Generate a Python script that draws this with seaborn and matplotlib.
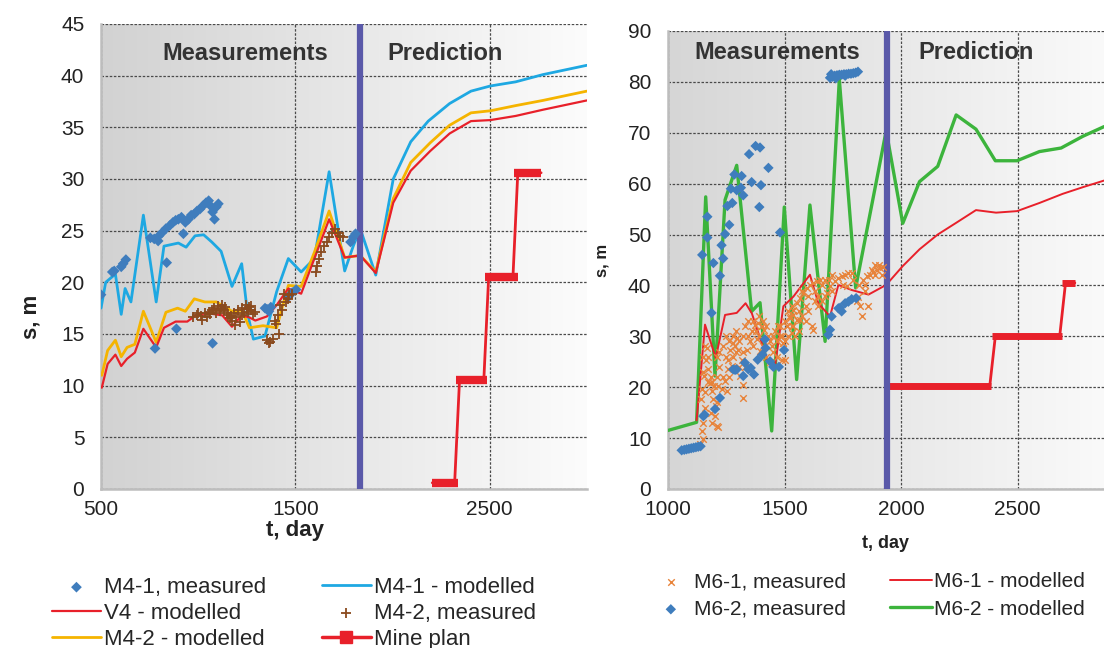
import numpy as np
import matplotlib
matplotlib.use("Agg")
import matplotlib.pyplot as plt
from matplotlib.colors import LinearSegmentedColormap
from matplotlib.lines import Line2D
import seaborn as sns

# ---------------- left panel: M4 / V4 ----------------
m41_meas_t = [500, 558, 568, 604, 614, 628, 754, 774, 778, 794, 798, 814, 834, 838, 854, 870,
              884, 888, 898, 914, 924, 934, 950, 964, 980, 994, 1010, 1024, 1040, 1054, 1064,
              1074, 1074, 1084, 1094, 1104, 1344, 1354, 1364, 1374, 1484, 1464, 1504,
              1784, 1798, 1810]
m41_meas_s = [18.8, 21.0, 21.1, 21.5, 21.8, 22.2, 24.3, 24.2, 13.6, 24.0, 24.5, 24.8, 25.2, 21.9,
              25.5, 25.8, 26.0, 15.5, 26.1, 26.3, 24.7, 25.8, 26.1, 26.5, 26.6, 26.9, 27.1, 27.4,
              27.7, 27.9, 27.4, 26.8, 14.1, 26.1, 27.3, 27.6, 17.5, 17.4, 17.2, 17.6, 19.0, 18.6,
              19.3, 23.9, 24.4, 24.7]

m42_meas_t = [974, 994, 1014, 1034, 1054, 1070, 1084, 1104, 1124, 1134, 1154, 1164, 1174, 1184,
              1204, 1214, 1224, 1244, 1254, 1274, 1290, 1020, 1060, 1090, 1110, 1140, 1194, 1234,
              1264, 1280, 1190, 1354, 1370, 1384, 1414, 1394, 1410, 1430, 1450, 1470, 1484, 1444,
              1604, 1614, 1624, 1634, 1650, 1664, 1674, 1690, 1704, 1718, 1730, 1744,
              1000, 1045, 1118, 1148, 1170, 1228, 1250, 1270, 1362, 1402, 1422, 1460]
m42_meas_s = [16.6, 16.8, 16.7, 17.0, 17.1, 17.3, 17.5, 17.7, 17.8, 17.3, 16.8, 16.5, 16.3, 17.0,
              17.3, 16.2, 17.5, 17.8, 17.1, 17.3, 17.1, 16.4, 16.9, 17.0, 17.2, 17.6, 16.6, 17.0,
              17.6, 16.9, 15.9, 14.4, 14.2, 14.5, 15.0, 16.3, 16.8, 17.3, 18.1, 18.8, 18.9, 18.9,
              21.0, 21.6, 22.3, 22.9, 23.5, 23.9, 24.4, 24.8, 25.2, 24.8, 24.5, 24.4,
              17.0, 16.6, 17.4, 17.0, 16.7, 16.8, 17.4, 17.7, 14.1, 16.0, 17.8, 18.4]

m41_mod_t = [500, 524, 574, 604, 624, 654, 718, 784, 824, 898, 938, 984, 1028, 1070, 1118, 1174,
             1224, 1254, 1284, 1344, 1404, 1464, 1530, 1598, 1674, 1754, 1798, 1834, 1914, 2004,
             2094, 2184, 2294, 2404, 2504, 2634, 2774, 3000]
m41_mod_s = [17.5, 20.0, 20.8, 16.9, 19.4, 18.1, 26.5, 18.1, 23.5, 23.8, 23.4, 24.5, 24.6, 23.9,
             23.0, 19.6, 21.8, 17.0, 14.5, 14.8, 19.1, 22.3, 21.0, 22.3, 30.7, 21.1, 23.5, 25.2,
             20.7, 30.0, 33.6, 35.6, 37.3, 38.5, 39.0, 39.4, 40.1, 41.0]

v4_mod_t = [504, 534, 574, 604, 634, 674, 718, 784, 824, 884, 944, 994, 1054, 1124, 1174, 1224,
            1264, 1294, 1354, 1404, 1464, 1530, 1598, 1674, 1754, 1834, 1914, 2004, 2094, 2194,
            2294, 2404, 2504, 2634, 2774, 3000]
v4_mod_s = [9.8, 12.1, 13.0, 11.9, 12.6, 13.2, 15.5, 13.7, 15.6, 16.2, 16.2, 16.9, 17.0, 16.8,
            15.7, 16.8, 16.6, 16.3, 16.7, 17.8, 19.4, 18.9, 22.3, 26.1, 22.4, 22.6, 20.9, 27.7,
            30.8, 32.7, 34.4, 35.6, 35.7, 36.1, 36.7, 37.6]

m42_mod_t = [504, 534, 574, 604, 634, 674, 718, 784, 834, 894, 934, 980, 1034, 1094, 1174, 1224,
             1264, 1334, 1404, 1464, 1530, 1598, 1674, 1754, 1834, 1914, 2004, 2094, 2194, 2294,
             2404, 2504, 2634, 2774, 3000]
m42_mod_s = [11.0, 13.4, 14.4, 12.8, 13.7, 14.0, 17.2, 14.2, 17.1, 17.5, 17.2, 18.4, 18.1, 18.1,
             17.2, 17.3, 15.6, 15.8, 15.6, 19.7, 19.6, 22.9, 26.9, 22.4, 22.6, 21.0, 28.1, 31.6,
             33.5, 35.2, 36.4, 36.6, 37.1, 37.6, 38.5]

plan4_t = [2205, 2320, 2345, 2470, 2495, 2620, 2645, 2765]
plan4_s = [0.6, 0.6, 10.5, 10.5, 20.5, 20.5, 30.6, 30.6]
plan4_bar_from = [2205, 2325, 2475, 2625]
plan4_bar_to = [2335, 2485, 2645, 2765]
plan4_bar_s = [0.6, 10.5, 20.5, 30.6]
split4 = 1834

# ---------------- right panel: M6 ----------------
m61_meas_t = [1137, 1144, 1152, 1142, 1147, 1156, 1162, 1166, 1173, 1180, 1187, 1195, 1202, 1209,
              1199, 1216, 1230, 1245, 1252, 1259, 1266, 1280, 1295, 1288, 1302, 1259, 1273, 1316,
              1323, 1323, 1309, 1338, 1352, 1359, 1373, 1388, 1402, 1413, 1380, 1395, 1431, 1445,
              1459, 1473, 1488, 1495, 1502, 1509, 1524, 1538, 1552, 1545, 1531, 1152, 1213, 1205,
              1481, 1495, 1488, 1509, 1524, 1538, 1552, 1567, 1581, 1595, 1609, 1624, 1638, 1652,
              1617, 1624, 1567, 1538, 1717, 1731, 1745, 1760, 1774, 1788, 1767, 1817, 1824, 1831,
              1810, 1838, 1853, 1867, 1881, 1896, 1910, 1924, 1695, 1681,
              1150, 1150, 1160, 1160, 1160, 1170, 1170, 1185, 1185, 1190, 1190, 1210, 1210, 1210,
              1220, 1220, 1235, 1235, 1248, 1248, 1262, 1262, 1278, 1278, 1292, 1292, 1305, 1305,
              1320, 1320, 1332, 1332, 1345, 1345, 1365, 1365, 1378, 1392, 1392, 1408, 1408, 1420,
              1420, 1438, 1438, 1452, 1452, 1466, 1466, 1480, 1500, 1500, 1515, 1515, 1530, 1530,
              1560, 1560, 1575, 1575, 1590, 1590, 1602, 1602, 1630, 1630, 1645, 1645, 1660, 1660,
              1675, 1675, 1690, 1705, 1705, 1752, 1795, 1820, 1845, 1845, 1860, 1875, 1890, 1890,
              1905, 1918]
m61_meas_s = [8.8, 11.4, 13.0, 17.6, 19.6, 22.2, 25.4, 27.7, 23.5, 20.9, 19.2, 17.6, 14.3, 12.4,
              20.2, 20.2, 19.6, 21.2, 19.2, 25.4, 27.4, 28.7, 29.7, 28.0, 27.4, 23.5, 24.1, 25.4,
              20.5, 17.9, 22.2, 27.4, 29.0, 31.0, 32.3, 32.6, 32.0, 31.3, 29.4, 27.1, 30.0, 28.0,
              31.0, 32.0, 30.0, 28.7, 25.4, 32.0, 33.6, 34.2, 33.3, 30.0, 30.7, 9.8, 12.1, 16.3,
              30.0, 28.7, 25.4, 32.0, 33.9, 35.2, 36.5, 37.5, 38.5, 39.5, 40.1, 40.4, 40.8, 41.1,
              32.0, 31.3, 33.3, 32.0, 40.8, 41.4, 41.8, 42.1, 42.4, 42.4, 39.8, 37.8, 35.9, 33.9,
              36.9, 41.1, 41.8, 42.1, 42.7, 43.1, 43.4, 43.7, 39.8, 38.5,
              23.0, 26.0, 16.0, 19.0, 28.0, 21.0, 26.0, 15.0, 22.0, 13.0, 21.0, 17.0, 22.0, 26.0,
              24.0, 27.0, 22.0, 28.0, 26.0, 30.0, 29.0, 22.0, 30.0, 26.0, 27.0, 31.0, 29.0, 24.0,
              30.0, 27.0, 24.0, 32.0, 30.0, 33.0, 28.0, 33.0, 31.0, 30.0, 34.0, 28.0, 33.0, 26.0,
              32.0, 29.0, 25.0, 27.0, 30.0, 29.0, 26.0, 32.0, 33.0, 29.0, 30.0, 35.0, 32.0, 36.0,
              35.0, 31.0, 34.0, 39.0, 36.0, 33.0, 38.0, 35.0, 37.0, 39.0, 38.0, 36.0, 40.0, 37.0,
              41.0, 38.0, 41.0, 39.0, 42.0, 40.0, 41.0, 40.0, 40.0, 39.0, 36.0, 43.0, 42.0, 44.0,
              44.0, 42.0]

m62_meas_t = [1059, 1070, 1080, 1090, 1100, 1110, 1120, 1130, 1140, 1152, 1157, 1187, 1202, 1223,
              1280, 1288, 1295, 1323, 1330, 1345, 1355, 1369, 1385, 1405, 1416, 1419, 1438, 1452,
              1476, 1498, 1195, 1223, 1147, 1169, 1169, 1230, 1237, 1245, 1263, 1255, 1276, 1270,
              1285, 1295, 1313, 1316, 1323, 1348, 1359, 1376, 1395, 1399, 1392, 1431, 1481,
              1695, 1705, 1715, 1725, 1735, 1745, 1755, 1765, 1775, 1785, 1795, 1805, 1815, 1700,
              1720, 1760, 1688, 1695, 1702, 1731, 1745, 1760, 1774, 1788, 1807, 1738]
m62_meas_s = [7.6, 7.7, 7.8, 7.9, 8.0, 8.1, 8.2, 8.3, 8.4, 14.3, 14.6, 34.6, 15.7, 17.9,
              23.5, 23.4, 23.5, 22.2, 24.8, 23.5, 23.8, 22.5, 25.4, 26.4, 29.4, 27.7, 25.1, 24.0,
              24.0, 27.3, 44.4, 41.9, 46.0, 53.5, 49.4, 47.9, 45.3, 50.1, 51.9, 55.6, 56.2, 59.0,
              61.8, 58.7, 59.2, 61.5, 57.7, 65.8, 60.3, 67.4, 67.1, 59.7, 55.4, 63.1, 50.4,
              80.8, 81.0, 81.2, 81.3, 81.4, 81.4, 81.5, 81.5, 81.6, 81.6, 81.7, 81.8, 82.0, 81.5,
              80.7, 81.2, 30.3, 31.3, 33.9, 35.5, 34.9, 36.5, 36.8, 37.3, 37.5, 35.6]

m61_mod_t = [1123, 1159, 1205, 1245, 1295, 1333, 1360, 1430, 1459, 1495, 1538, 1609, 1645, 1695,
             1731, 1788, 1860, 1936, 2007, 2079, 2157, 2236, 2321, 2407, 2497, 2593, 2693, 2779,
             2870]
m61_mod_s = [13.5, 32.3, 25.8, 34.2, 34.6, 36.5, 34.5, 24.8, 24.1, 35.9, 37.8, 42.1, 36.5, 33.9,
             40.1, 39.1, 38.2, 40.1, 43.8, 47.1, 50.0, 52.3, 54.8, 54.3, 54.6, 56.2, 58.0, 59.3,
             60.6]

m62_mod_t = [1000, 1123, 1162, 1202, 1245, 1295, 1359, 1395, 1445, 1499, 1552, 1609, 1674, 1735,
             1805, 1936, 2007, 2079, 2157, 2236, 2321, 2404, 2497, 2593, 2686, 2779, 2870]
m62_mod_s = [11.5, 13.1, 57.4, 22.2, 56.8, 63.6, 34.9, 36.6, 11.4, 55.4, 21.5, 55.8, 29.0, 80.5,
             39.5, 70.4, 52.2, 60.4, 63.4, 73.5, 70.7, 64.5, 64.5, 66.3, 67.0, 69.3, 71.2]

plan6_t = [1940, 2380, 2404, 2680, 2705, 2745]
plan6_s = [20.2, 20.2, 30.0, 30.0, 40.5, 40.5]
plan6_bar_from = [1940, 2390, 2690]
plan6_bar_to = [2385, 2690, 2745]
plan6_bar_s = [20.2, 30.0, 40.5]
split6 = 1940

C_BLUE_PT = "#3f7dbd"
C_CYAN = "#1ea8e2"
C_RED = "#e8202a"
C_ORANGE = "#f5b400"
C_BROWN = "#8a4a1e"
C_ORANGE_X = "#e8833a"
C_GREEN = "#3cb43c"
C_SPLIT = "#5a59a9"
GRID = dict(color="#4a4a4a", lw=0.9, ls=(0, (2, 1.3)))

sns.set_theme(style="white")
plt.rcParams["font.family"] = ["Liberation Sans", "DejaVu Sans"]

fig = plt.figure(figsize=(11.04, 6.48), dpi=100)
ax1 = fig.add_axes([0.0915, 0.2454, 0.440, 0.7176])
ax2 = fig.add_axes([0.605, 0.2454, 0.395, 0.7068])


def frame(ax, xlim, ylim, xticks, yticks, c0, c1):
    cmap = LinearSegmentedColormap.from_list("bg", [c0, c1])
    ax.imshow(np.linspace(0, 1, 256)[None, :], extent=(*xlim, *ylim), aspect="auto",
              cmap=cmap, zorder=0, interpolation="bicubic")
    ax.set_xlim(xlim)
    ax.set_ylim(ylim)
    ax.set_xticks(xticks)
    ax.set_yticks(yticks)
    ax.set_axisbelow(True)
    ax.grid(True, **GRID)
    for side in ("top", "right"):
        ax.spines[side].set_visible(False)
    for side in ("left", "bottom"):
        ax.spines[side].set_color("#bdbdbd")
        ax.spines[side].set_linewidth(1.8)
    ax.tick_params(length=6, width=1, color="#8a8a8a", labelsize=15, labelcolor="#222222")
    ax.tick_params(axis="x", pad=2)
    ax.tick_params(axis="y", pad=6)


# ---- left ----
frame(ax1, (500, 3000), (0, 45), [500, 1500, 2500], list(range(0, 46, 5)), "#d2d2d2", "#fcfcfc")
sns.lineplot(x=m41_mod_t, y=m41_mod_s, ax=ax1, color=C_CYAN, lw=2.0, estimator=None, sort=False,
             label="M4-1 - modelled", zorder=3)
sns.lineplot(x=m42_mod_t, y=m42_mod_s, ax=ax1, color=C_ORANGE, lw=2.0, estimator=None, sort=False,
             label="M4-2 - modelled", zorder=3)
sns.lineplot(x=v4_mod_t, y=v4_mod_s, ax=ax1, color=C_RED, lw=1.6, estimator=None, sort=False,
             label="V4 - modelled", zorder=3)
sns.scatterplot(x=m41_meas_t, y=m41_meas_s, ax=ax1, marker="D", s=30, color=C_BLUE_PT,
                edgecolor="none", label="M4-1, measured", zorder=4)
sns.scatterplot(x=m42_meas_t, y=m42_meas_s, ax=ax1, marker="+", s=55, color=C_BROWN,
                linewidth=1.3, label="M4-2, measured", zorder=4)
sns.lineplot(x=plan4_t, y=plan4_s, ax=ax1, color=C_RED, lw=2.0, estimator=None, sort=False,
             zorder=3, legend=False)
ax1.hlines(plan4_bar_s, plan4_bar_from, plan4_bar_to, color=C_RED, lw=6, zorder=3)
ax1.axvline(split4, color=C_SPLIT, lw=4.5, zorder=3.5)
ax1.text(1240, 42.1, "Measurements", ha="center", va="center", fontsize=17, fontweight="bold",
         color="#333333")
ax1.text(2270, 42.1, "Prediction", ha="center", va="center", fontsize=17, fontweight="bold",
         color="#333333")
ax1.set_xlabel("t, day", fontsize=16, fontweight="bold", color="#222222")
ax1.set_ylabel("s, m", fontsize=16, fontweight="bold", color="#222222")
ax1.xaxis.set_label_coords(0.40, -0.067)
ax1.yaxis.set_label_coords(-0.122, 0.37)

h1, l1 = ax1.get_legend_handles_labels()
ax1.get_legend().remove()
d1 = dict(zip(l1, h1))
plan_handle = Line2D([], [], color=C_RED, lw=2.5, marker="s", markersize=8)
order1 = [(d1["M4-1, measured"], "M4-1, measured"), (d1["V4 - modelled"], "V4 - modelled"),
          (d1["M4-2 - modelled"], "M4-2 - modelled"), (d1["M4-1 - modelled"], "M4-1 - modelled"),
          (d1["M4-2, measured"], "M4-2, measured"), (plan_handle, "Mine plan")]
fig.legend([h for h, _ in order1], [l for _, l in order1], ncol=2, loc="upper left",
           bbox_to_anchor=(52 / 1104, 1 - 577 / 648), frameon=False, fontsize=16,
           handlelength=2.2, handletextpad=0.15, columnspacing=2.5, labelspacing=0.22,
           borderpad=0, borderaxespad=0)

# ---- right ----
frame(ax2, (1000, 2870), (0, 90), [1000, 1500, 2000, 2500], list(range(0, 91, 10)),
      "#d6d6d6", "#fafafa")
sns.lineplot(x=m62_mod_t, y=m62_mod_s, ax=ax2, color=C_GREEN, lw=2.4, estimator=None, sort=False,
             label="M6-2 - modelled", zorder=3)
sns.lineplot(x=m61_mod_t, y=m61_mod_s, ax=ax2, color=C_RED, lw=1.4, estimator=None, sort=False,
             label="M6-1 - modelled", zorder=3)
sns.scatterplot(x=m61_meas_t, y=m61_meas_s, ax=ax2, marker="x", s=22, color=C_ORANGE_X,
                linewidth=1.0, label="M6-1, measured", zorder=4)
sns.scatterplot(x=m62_meas_t, y=m62_meas_s, ax=ax2, marker="D", s=28, color=C_BLUE_PT,
                edgecolor="none", label="M6-2, measured", zorder=4)
sns.lineplot(x=plan6_t, y=plan6_s, ax=ax2, color=C_RED, lw=2.0, estimator=None, sort=False,
             zorder=3, legend=False)
ax2.hlines(plan6_bar_s, plan6_bar_from, plan6_bar_to, color=C_RED, lw=5, zorder=3)
ax2.axvline(split6, color=C_SPLIT, lw=4.5, zorder=3.5)
ax2.text(1468, 85.7, "Measurements", ha="center", va="center", fontsize=17, fontweight="bold",
         color="#333333")
ax2.text(2322, 85.7, "Prediction", ha="center", va="center", fontsize=17, fontweight="bold",
         color="#333333")
ax2.set_xlabel("t, day", fontsize=13, fontweight="bold", color="#222222")
ax2.set_ylabel("s, m", fontsize=12, fontweight="bold", color="#222222")
ax2.xaxis.set_label_coords(0.50, -0.100)
ax2.yaxis.set_label_coords(-0.135, 0.50)

h2, l2 = ax2.get_legend_handles_labels()
ax2.get_legend().remove()
d2 = dict(zip(l2, h2))
order2 = ["M6-1, measured", "M6-2, measured", "M6-1 - modelled", "M6-2 - modelled"]
fig.legend([d2[k] for k in order2], order2, ncol=2, loc="upper left",
           bbox_to_anchor=(650 / 1104, 1 - 572 / 648), frameon=False, fontsize=15,
           handlelength=2.0, handletextpad=0.12, columnspacing=2.1, labelspacing=0.42,
           borderpad=0, borderaxespad=0)

fig.savefig("out.png", dpi=100)
